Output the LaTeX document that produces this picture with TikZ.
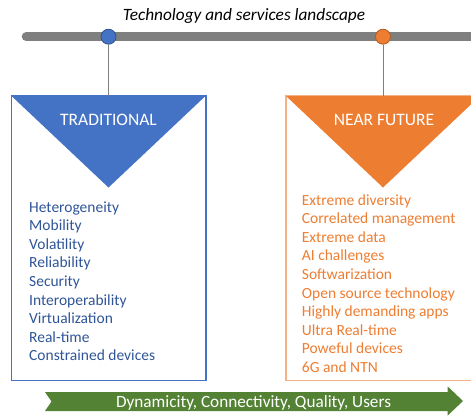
\documentclass[tikz,border=0pt]{standalone}
\usepackage{fontspec}
\setmainfont{Carlito}
\definecolor{tlgray}{HTML}{7F7F7F}
\definecolor{tradblue}{HTML}{4472C4}
\definecolor{tradblueD}{HTML}{2F528F}
\definecolor{tradtext}{HTML}{2F5597}
\definecolor{futor}{HTML}{ED7D31}
\definecolor{futorD}{HTML}{AE5A21}
\definecolor{futorL}{HTML}{F4B183}
\definecolor{arrgreen}{HTML}{548235}
\tikzset{
  dot/.style={circle, draw=#1, line width=0.8pt, minimum size=15pt, inner sep=0pt},
  colbox/.style={rectangle, draw=#1, line width=1pt, minimum width=194pt, minimum height=284pt, inner sep=0pt},
  item/.style={anchor=base west, inner sep=0pt, font=\fontsize{15.5}{18.5}\selectfont},
  head/.style={anchor=base, inner sep=0pt, text=white, font=\fontsize{17.5}{20}\selectfont},
  stem/.style={draw=tlgray, line width=0.8pt}
}
\begin{document}
\begin{tikzpicture}[x=1pt,y=-1pt]
\useasboundingbox (0,0) rectangle (471,415);
\clip (0,0) rectangle (471,415);
% title
\node[anchor=base, inner sep=0pt, font=\fontsize{17.3}{20}\selectfont\itshape] (title) at (244,20.5) {Technology and services landscape};
% timeline
\draw[tlgray, line width=9pt, line cap=round] (26.2,36.7) -- (490,36.7);
% boxes
\node[colbox=tradblue] (b1) at (108.5,238) {};
\node[colbox=futorL] (b2) at (383,238) {};
% triangles
\fill[tradblue] (b1.north west) -- (b1.north east) -- ([yshift=-92pt]b1.north) -- cycle;
\fill[futor] (b2.north west) -- (b2.north east) -- ([yshift=-92pt]b2.north) -- cycle;
\draw[tradblue, line width=1pt] (b1.north west) rectangle (b1.south east);
\draw[futorL, line width=1pt] (b2.north west) rectangle (b2.south east);
% circles
\node[dot=tradblueD, fill=tradblue] (c1) at (108.5,36.7) {};
\node[dot=futorD, fill=futor] (c2) at (383,36.7) {};
\draw[stem] (c1) -- (b1.north);
\draw[stem] (c2) -- (b2.north);
% headings
\node[head] (h1) at (108.5,125) {TRADITIONAL};
\node[head] (h2) at (384,125) {NEAR FUTURE};
% lists
\foreach \t [count=\i from 0] in {Heterogeneity,Mobility,Volatility,Reliability,Security,Interoperability,Virtualization,Real-time,Constrained devices}
  \node[item, text=tradtext] (l\i) at (29,212.3+\i*18.55) {\t};
\foreach \t [count=\i from 0] in {Extreme diversity,Correlated management,Extreme data,AI challenges,Softwarization,Open source technology,Highly demanding apps,Ultra Real-time,Poweful devices,6G and NTN}
  \node[item, text=futor] (r\i) at (301.7,205.3+\i*18.55) {\t};
% bottom arrow
\fill[arrgreen] (45,392) -- (447.7,392) -- (447.7,386.5) -- (463,401) -- (447.7,415.5) -- (447.7,411) -- (45,411) -- (51.5,401.5) -- cycle;
\node[anchor=base, inner sep=0pt, text=white, font=\fontsize{17.2}{20}\selectfont] (arrtext) at (253.5,407) {Dynamicity, Connectivity, Quality, Users};
\end{tikzpicture}
\end{document}
